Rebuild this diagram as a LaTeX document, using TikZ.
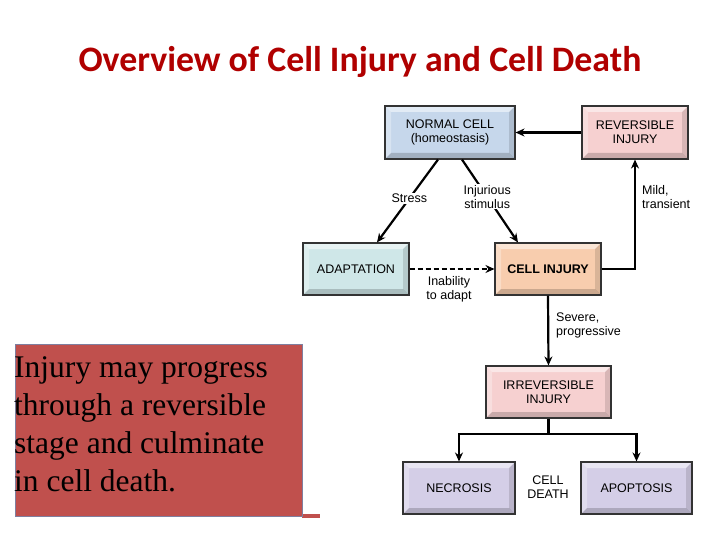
\documentclass[tikz,border=0pt]{standalone}
\usepackage{fontspec}
\setmainfont{Liberation Sans}
\newfontfamily\titlefont{Carlito}
\newfontfamily\serifbody{Liberation Serif}
\usetikzlibrary{arrows.meta}
\definecolor{titlered}{HTML}{B00000}
\definecolor{boxred}{HTML}{C0504D}
\definecolor{cblue}{HTML}{C6D7EB}
\definecolor{cpink}{HTML}{F6D0D0}
\definecolor{ccyan}{HTML}{CFE7E8}
\definecolor{cpeach}{HTML}{F8CDAE}
\definecolor{clav}{HTML}{D4CEE7}
\definecolor{boxedge}{HTML}{7F7F9F}
\tikzset{
  bevel/.style={draw=black!80, line width=1.1pt, fill=#1, minimum height=52pt,
    inner sep=0pt, align=center, font=\fontsize{12.5}{14}\selectfont,
    path picture={
      \fill[white,opacity=0.5] (path picture bounding box.north west) -- (path picture bounding box.north east)
        -- ([xshift=-6pt,yshift=-6pt]path picture bounding box.north east) -- ([xshift=6pt,yshift=-6pt]path picture bounding box.north west) -- cycle;
      \fill[white,opacity=0.3] (path picture bounding box.north west) -- ([xshift=6pt,yshift=-6pt]path picture bounding box.north west)
        -- ([xshift=6pt,yshift=6pt]path picture bounding box.south west) -- (path picture bounding box.south west) -- cycle;
      \fill[black,opacity=0.18] (path picture bounding box.south west) -- ([xshift=6pt,yshift=6pt]path picture bounding box.south west)
        -- ([xshift=-6pt,yshift=6pt]path picture bounding box.south east) -- (path picture bounding box.south east) -- cycle;
      \fill[black,opacity=0.12] (path picture bounding box.north east) -- ([xshift=-6pt,yshift=-6pt]path picture bounding box.north east)
        -- ([xshift=-6pt,yshift=6pt]path picture bounding box.south east) -- (path picture bounding box.south east) -- cycle;
    }},
  conn/.style={line width=2.2pt, -{Stealth[length=9pt,width=8pt]}},
  lbl/.style={font=\fontsize{12.5}{14}\selectfont, align=center, inner sep=1pt},
}
\begin{document}
\begin{tikzpicture}[x=1pt,y=-1pt]
\useasboundingbox (0,0) rectangle (720,540);
\node[font=\titlefont\bfseries\fontsize{35.8}{40}\selectfont, text=titlered] (title) at (360,62) {Overview of Cell Injury and Cell Death};

% red text box
\fill[boxred] (302,514) rectangle (320,518);
\draw[draw=boxedge, line width=0.8pt, fill=boxred] (15,344) rectangle (302,516);
\node[anchor=north west, inner sep=0pt, align=left, font=\serifbody\fontsize{31.5}{38}\selectfont] (txt) at (14,356)
  {Injury may progress\\through a reversible\\stage and culminate\\in cell death.};

% boxes
\node[bevel=cblue, minimum width=130pt, minimum height=53pt] (normal) at (450,132.5) {NORMAL CELL\\(homeostasis)};
\node[bevel=cpink, minimum width=106pt, minimum height=53pt] (rev) at (635,132.5) {REVERSIBLE\\INJURY};
\node[bevel=ccyan, minimum width=106pt] (adapt) at (356,269) {ADAPTATION};
\node[bevel=cpeach, minimum width=106pt, font=\bfseries\fontsize{12.5}{14}\selectfont] (inj) at (548,269) {CELL INJURY};
\node[bevel=cpink, minimum width=125pt] (irr) at (548.5,392) {IRREVERSIBLE\\INJURY};
\node[bevel=clav, minimum width=112pt] (nec) at (459,488) {NECROSIS};
\node[bevel=clav, minimum width=111pt] (apo) at (636.5,488) {APOPTOSIS};
\node[lbl] (death) at (548,487) {CELL\\DEATH};

% connectors
\draw[conn] (rev.west) -- (normal.east);
\draw[conn] ([xshift=-12pt]normal.south) -- node[lbl, fill=white, pos=0.47] (stress) {Stress} ([xshift=21pt]adapt.north);
\draw[conn] ([xshift=12pt]normal.south) -- node[lbl, fill=white, pos=0.45] (stim) {Injurious\\stimulus} ([xshift=-30pt]inj.north);
\draw[conn] (inj.east) -| (rev.south);
\node[lbl, anchor=west, align=left] (mild) at (641,197) {Mild,\\transient};
\draw[line width=1.8pt, dashed, dash pattern=on 5pt off 3pt, -{Stealth[length=9pt,width=8pt]}] (adapt.east) -- (inj.west);
\node[lbl] (inab) at (449,289) {Inability\\to adapt};
\draw[conn] (inj.south) -- (irr.north);
\node[lbl, anchor=west, align=left] (sev) at (555,325) {Severe,\\progressive};
\coordinate (split) at (548.5,434);
\draw[line width=2.2pt] (irr.south) -- (split);
\draw[conn] (split) -| (nec.north);
\draw[conn] (split) -| (apo.north);
\end{tikzpicture}
\end{document}
